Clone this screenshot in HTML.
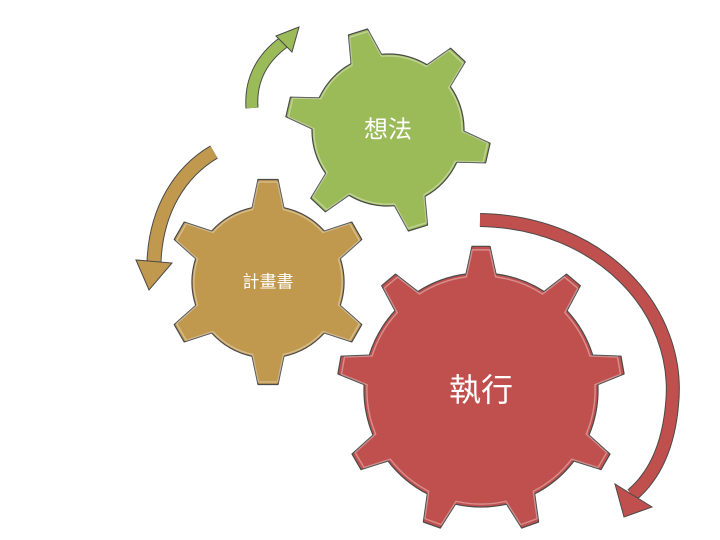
<!DOCTYPE html>
<html><head><meta charset="utf-8">
<style>
html,body{margin:0;padding:0;background:#fff;}
svg{display:block;}
text{font-family:"Liberation Sans","Noto Sans CJK TC",sans-serif;fill:#fff;text-anchor:middle;dominant-baseline:central;}
</style></head>
<body>
<svg id="chart" width="720" height="540" viewBox="0 0 720 540">
  <g id="arrows"></g>
  <g id="gears"></g>
</svg>
<script>
const labels = ["想法", "計畫書", "執行"];
const toothCounts = [6, 6, 9];
const startAngles = [-107, -90, -90];
const gearNames = ["idea-gear", "plan-gear", "execute-gear"];
const centers = [[388,130],[268,282],[481,390]];
const radii = [[103,76],[103,76],[144,117]];
const baseWidths = [32,32,30];
const tipWidths = [20,20,18];
const colors = ["#9bbb59","#c0994f","#c0504d"];
const fontSizes = [24,17,32];
const ns = "http://www.w3.org/2000/svg";
const gearsG = document.getElementById('gears');
const arrowsG = document.getElementById('arrows');

function gearPath(cx, cy, ro, ri, n, a0, bw, tw){
  const rad = Math.PI/180;
  const step = 360/n;
  const baseHalf = (bw/2) / ri / rad;
  const tipHalf = (tw/2) / ro / rad;
  const p = (ang, r) => [(cx + r*Math.cos(ang*rad)).toFixed(1), (cy + r*Math.sin(ang*rad)).toFixed(1)];
  let d = "";
  for (let i=0;i<n;i++){
    const a = a0 + i*step;
    const b1 = p(a-baseHalf, ri), t1 = p(a-tipHalf, ro), t2 = p(a+tipHalf, ro), b2 = p(a+baseHalf, ri);
    if (i===0) d += "M"+b1.join(",");
    else d += " A"+ri+","+ri+" 0 0 1 "+b1.join(",");
    d += " L"+t1.join(",")+" L"+t2.join(",")+" L"+b2.join(",");
  }
  d += " A"+ri+","+ri+" 0 0 1 "+p(a0-baseHalf, ri).join(",")+" Z";
  return d;
}

for (let g=0; g<3; g++){
  const grp = document.createElementNS(ns,'g');
  
  
  const path = document.createElementNS(ns,'path');
  const d = gearPath(centers[g][0], centers[g][1], radii[g][0], radii[g][1], toothCounts[g], startAngles[g], baseWidths[g], tipWidths[g]);
  path.setAttribute('d', d);
  path.setAttribute('fill', colors[g]);
  path.setAttribute('stroke', '#4a4a4a');
  path.setAttribute('stroke-width', '1.2');
  path.setAttribute('stroke-linejoin', 'round');
  
  
  grp.appendChild(path);
  const hl = document.createElementNS(ns,'path');
  hl.setAttribute('d', d);
  hl.setAttribute('fill', 'none');
  hl.setAttribute('stroke', 'rgba(255,255,255,0.35)');
  hl.setAttribute('stroke-width', '1.5');
  hl.setAttribute('transform', 'translate('+centers[g][0]+','+centers[g][1]+') scale(0.975) translate('+(-centers[g][0])+','+(-centers[g][1])+')');
  
  
  grp.appendChild(hl);
  const t = document.createElementNS(ns,'text');
  t.setAttribute('x', centers[g][0]);
  t.setAttribute('y', centers[g][1]);
  t.setAttribute('font-size', fontSizes[g]);
  t.textContent = labels[g];
  
  
  grp.appendChild(t);
  gearsG.appendChild(grp);
}

function arrow(name, d, w, color, head){
  const grp = document.createElementNS(ns,'g');
  
  
  const o = document.createElementNS(ns,'path');
  o.setAttribute('d', d); o.setAttribute('fill','none');
  o.setAttribute('stroke','#4a4a4a'); o.setAttribute('stroke-width', w+2);
  
  
  grp.appendChild(o);
  const s = document.createElementNS(ns,'path');
  s.setAttribute('d', d); s.setAttribute('fill','none');
  s.setAttribute('stroke',color); s.setAttribute('stroke-width', w);
  
  
  grp.appendChild(s);
  const h = document.createElementNS(ns,'polygon');
  h.setAttribute('points', head); h.setAttribute('fill',color);
  h.setAttribute('stroke','#4a4a4a'); h.setAttribute('stroke-width','1');
  
  
  grp.appendChild(h);
  arrowsG.appendChild(grp);
}
arrow('green-arrow', 'M252,108 C250,80 262,58 284,42', 11, '#9bbb59', '276,36 299,27 292,52');
arrow('tan-arrow', 'M214,152 C180,172 156,210 154,262', 13, '#c0994f', '136,260 149,290 172,263');
arrow('red-arrow', 'M480,220 C600,222 682,310 672,405 C668,450 652,478 632,495', 12, '#c0504d', '615,484 624,517 652,507');
</script>
</body></html>
